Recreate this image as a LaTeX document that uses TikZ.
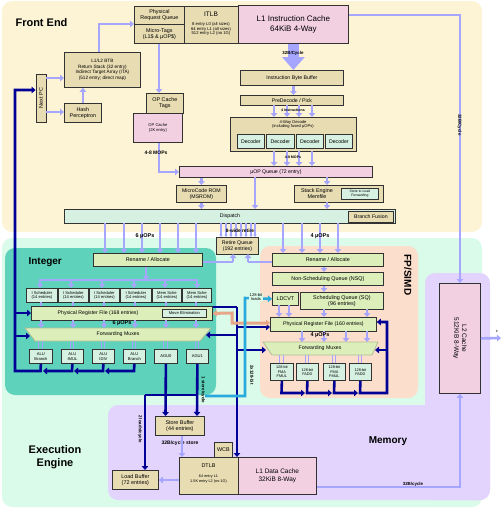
\documentclass[tikz,border=0pt]{standalone}
\usepackage{fontspec}
\setmainfont{Liberation Sans}
\usetikzlibrary{arrows.meta}

\definecolor{frontc}{RGB}{253,244,214}
\definecolor{execc}{RGB}{218,250,234}
\definecolor{intc}{RGB}{94,210,186}
\definecolor{fpc}{RGB}{252,222,204}
\definecolor{memc}{RGB}{226,212,252}
\definecolor{pinkc}{RGB}{242,208,226}
\definecolor{tanc}{RGB}{232,220,178}
\definecolor{mintc}{RGB}{214,240,226}
\definecolor{greenc}{RGB}{220,238,186}
\definecolor{lavc}{RGB}{166,166,255}
\definecolor{dbluec}{RGB}{0,0,150}
\definecolor{cyanc}{RGB}{40,170,220}
\definecolor{salmc}{RGB}{232,166,136}
\definecolor{linec}{RGB}{50,50,50}

\tikzset{
  blk/.style={draw=linec, line width=0.8pt, inner sep=0pt, align=center},
  tanbox/.style={blk, fill=tanc},
  pinkbox/.style={blk, fill=pinkc},
  mintbox/.style={blk, fill=mintc},
  greenbox/.style={blk, fill=greenc},
  nw/.style={anchor=north west},
  fa/.style={font=\fontsize{4.1}{4.7}\selectfont},
  fb/.style={font=\fontsize{5.2}{6}\selectfont},
  fc/.style={font=\fontsize{5.4}{6.4}\selectfont},
  fd/.style={font=\fontsize{6.5}{7.8}\selectfont},
  fe/.style={font=\fontsize{8}{9.6}\selectfont},
  hd/.style={font=\fontsize{11}{13}\selectfont\bfseries, align=center},
  bl/.style={font=\fontsize{4.4}{5}\selectfont\bfseries},
  lav/.style={draw=lavc, line width=2.6pt, -{Triangle[length=4pt,width=6.5pt]}},
  lavline/.style={draw=lavc, line width=2.6pt},
  lavthin/.style={draw=lavc, line width=1.2pt, -{Triangle[length=2.5pt,width=3.5pt]}},
  blu/.style={draw=dbluec, line width=2.6pt, -{Triangle[length=4pt,width=6.5pt]}},
  bluline/.style={draw=dbluec, line width=2.6pt},
  cya/.style={draw=cyanc, line width=2.6pt, -{Triangle[length=4pt,width=6.5pt]}},
}

\begin{document}
\begin{tikzpicture}[x=1pt,y=-1pt]
\useasboundingbox (0,0) rectangle (503,509);
% regions
\fill[frontc, rounded corners=10] (2,1) rectangle (482,232);
\node[hd, anchor=west] (fend) at (12,23) {Front End};
\fill[execc, rounded corners=10] (2,238) rectangle (482,507);
\node[hd] (eeng) at (55,457) {Execution\\Engine};
\fill[intc, rounded corners=10] (5,248) rectangle (216,395);
\node[hd, anchor=west, font=\fontsize{10}{12}\selectfont\bfseries] (intl) at (25,262) {Integer};
\fill[fpc, rounded corners=10] (260,246) rectangle (418,398);
\node[hd, rotate=-90, font=\fontsize{10}{12}\selectfont\bfseries] (fpl) at (408,275) {FP/SIMD};
\fill[memc, rounded corners=10] (108,405) rectangle (490,500);
\fill[memc, rounded corners=10] (425,273) rectangle (490,500);
\node[hd, font=\fontsize{10}{12}\selectfont\bfseries] (meml) at (388,441) {Memory};

% front end
\node[tanbox, fc, nw, minimum width=50, minimum height=18] (prq) at (134,6) {Physical\\Request Queue};
\node[tanbox, fc, nw, minimum width=50, minimum height=19] (mtag) at (134,24) {Micro-Tags\\(L1\$ \& µOP\$)};
\node[tanbox, nw, minimum width=54, minimum height=37] (itlb) at (184,6) {};
\node[fd] (itlbt) at (211,14) {ITLB};
\node[fa, align=center, font=\fontsize{4.2}{4.9}\selectfont] (itlbs) at (211,29) {8 entry L0 (all sizes)\\64 entry L1 (all sizes)\\512 entry L2 (no 1G)};
\node[pinkbox, fe, nw, minimum width=110, minimum height=38] (l1i) at (238,5) {L1 Instruction Cache\\64KiB 4-Way};
\node[tanbox, nw, font=\fontsize{4.7}{5.6}\selectfont, minimum width=76, minimum height=35] (btb) at (64,52) {L1/L2 BTB\\Return Stack (32 entry)\\Indirect Target Array (ITA)\\(512 entry; direct map)};
\node[tanbox, fc, nw, minimum width=37, minimum height=19] (hash) at (64,103) {Hash\\Perceptron};
\node[tanbox, fc, rotate=90, minimum width=48, minimum height=10] (npc) at (41,98) {Next PC};
\node[tanbox, fc, nw, minimum width=37, minimum height=20] (opt) at (146,93) {OP Cache\\Tags};
\node[pinkbox, fa, nw, minimum width=49, minimum height=29] (opc) at (133,113) {OP Cache\\(2K entry)};
\node[tanbox, fb, nw, minimum width=103, minimum height=15] (ibb) at (240,70) {Instruction Byte Buffer};
\node[tanbox, fb, nw, minimum width=103, minimum height=10] (pdec) at (240,95) {PreDecode / Pick};
\node[tanbox, nw, minimum width=126, minimum height=34] (dec) at (230,117) {};
\node[fa, align=center] (dect) at (293,124.5) {4-Way Decode\\(including fused µOPs)};
\node[mintbox, fb, nw, minimum width=27, minimum height=14] (dc1) at (237,134) {Decoder};
\node[mintbox, fb, nw, minimum width=28, minimum height=14] (dc2) at (266,134) {Decoder};
\node[mintbox, fb, nw, minimum width=27, minimum height=14] (dc3) at (296,134) {Decoder};
\node[mintbox, fb, nw, minimum width=27, minimum height=14] (dc4) at (325,134) {Decoder};
\node[pinkbox, fb, nw, minimum width=193, minimum height=11] (uopq) at (179,166) {µOP Queue (72 entry)};
\node[tanbox, fb, nw, minimum width=50, minimum height=17] (msrom) at (176,185) {MicroCode ROM\\(MSROM)};
\node[tanbox, nw, minimum width=89, minimum height=17] (stk) at (294,185) {};
\node[fc, align=center] (stkt) at (317,193.5) {Stack Engine\\Memfile};
\node[mintbox, nw, font=\fontsize{3.4}{4}\selectfont, minimum width=37, minimum height=11] (stlf) at (341,188) {Store to Load\\Forwarding};
\node[mintbox, nw, minimum width=331, minimum height=14] (disp) at (64,209) {};
\node[fb] (dispt) at (230,216) {Dispatch};
\node[tanbox, fb, nw, minimum width=45, minimum height=11] (bfus) at (348,211) {Branch Fusion};

% front end connectors
\draw[lav] (npc.south |- 0,78) -- (btb.west |- 0,78);
\draw[lav] (npc.south |- 0,112) -- (hash.west |- 0,112);
\draw[lav] (hash.north) -- (hash.north |- btb.south);
\draw[lav] (btb.north -| 99,0) |- (prq.west |- mtag.north);
\draw[lav] (mtag.south -| 159,0) -- (opt.north -| 159,0);
\draw[lav] (opc.south -| 159,0) |- (uopq.west);
\node[bl, font=\fontsize{5}{6}\selectfont\bfseries] (mops1) at (156,153) {4-8 MOPs};
\draw[draw=lavc, line width=11pt, -{Triangle[length=13pt,width=22pt]}] (l1i.south) -- (l1i.south |- ibb.north);
\node[bl] (bw1) at (293,53) {32B/Cycle};
\draw[lav] (l1i.south |- ibb.south) -- (l1i.south |- pdec.north);
\foreach \x in {274,287,299,312} \draw[lav] (\x,105) -- (\x,117);
\node[bl, font=\fontsize{3.6}{4}\selectfont\bfseries] (ins4) at (293,110.5) {4 Instructions};
\foreach \x in {274,287,299,312} \draw[lav] (\x,151) -- (\x,166);
\node[bl, font=\fontsize{3.6}{4}\selectfont\bfseries] (mops2) at (293,157.5) {4-8 MOPs};
\draw[lav] (msrom.north |- uopq.south) -- (msrom.north);
\draw[lav] (msrom.south) -- (msrom.south |- disp.north);
\draw[lav] (255,177) -- (255,209);
\draw[lav] (327,177) -- (327,185);
\draw[lav] (327,202) -- (327,209);

% dispatch to back end
\foreach \x in {105,124,142,160,178,196} \draw[lav] (\x,223) -- (\x,253);
\node[bl, font=\fontsize{5.5}{6}\selectfont\bfseries] (u6a) at (145,236) {6 µOPs};
\foreach \x in {283,302,320,338} \draw[lav] (\x,223) -- (\x,253);
\node[bl, font=\fontsize{5.5}{6}\selectfont\bfseries] (u4a) at (320,236) {4 µOPs};
\foreach \x in {221,226,231,236,241,246,251,255} \draw[lavthin] (\x,223) -- (\x,237);
\node[bl, font=\fontsize{4.8}{5.5}\selectfont\bfseries] (ret8) at (240,230.5) {8-wide retire};
\node[tanbox, fb, nw, minimum width=42, minimum height=17] (rq) at (216,237) {Retire Queue\\(192 entries)};

% integer
\node[greenbox, fc, nw, minimum width=109, minimum height=13] (iren) at (93,253) {Rename / Allocate};
\node[mintbox, fa, nw, minimum width=31, minimum height=14] (is1) at (26,288) {I Scheduler\\(14 entries)};
\node[mintbox, fa, nw, minimum width=30, minimum height=14] (is2) at (58,288) {I Scheduler\\(14 entries)};
\node[mintbox, fa, nw, minimum width=30, minimum height=14] (is3) at (89,288) {I Scheduler\\(14 entries)};
\node[mintbox, fa, nw, minimum width=31, minimum height=14] (is4) at (120,288) {I Scheduler\\(14 entries)};
\node[mintbox, fa, nw, minimum width=29, minimum height=14] (ms1) at (152,288) {Mem Sche\\(14 entries)};
\node[mintbox, fa, nw, minimum width=29, minimum height=14] (ms2) at (182,288) {Mem Sche\\(14 entries)};
\node[greenbox, nw, minimum width=181, minimum height=14] (iprf) at (31,306) {};
\node[fb] (iprft) at (98,313) {Physical Register File (168 entries)};
\node[mintbox, fa, nw, minimum width=44, minimum height=8] (mvel) at (162,309) {Move Elimination};
\draw[greenc!80!black, fill=greenc, line width=0.8pt] (25,328) -- (211,328) -- (200,341) -- (35,341) -- cycle;
\node[fb] (imux) at (118,334.5) {Forwarding Muxes};
\node[mintbox, fa, nw, minimum width=23, minimum height=14] (alu1) at (29,349) {ALU\\Branch};
\node[mintbox, fa, nw, minimum width=22, minimum height=14] (alu2) at (61,349) {ALU\\IMUL};
\node[mintbox, fa, nw, minimum width=22, minimum height=14] (alu3) at (92,349) {ALU\\IDIV};
\node[mintbox, fa, nw, minimum width=22, minimum height=14] (alu4) at (123,349) {ALU\\Branch};
\node[mintbox, fa, nw, minimum width=23, minimum height=14] (agu0) at (154,349) {AGU0};
\node[mintbox, fa, nw, minimum width=22, minimum height=14] (agu1) at (186,349) {AGU1};

\draw[lav] (iren.south -| 146,0) -- (146,280);
\draw[lavline] (40,280) -- (197,280);
\foreach \x in {40,71,102,134,165,197} \draw[lav] (\x,279) -- (\x,288);
\foreach \x in {41,73,104,135,166,196} \draw[lavline] (\x,302) -- (\x,306);
\foreach \x in {41,73,104,135,166,196} \draw[lav] (\x,320) -- (\x,328);
\node[bl, font=\fontsize{5.5}{6}\selectfont\bfseries] (u6b) at (122,323) {6 µOPs};
\foreach \x in {40.5,72,103,134,165.5,197} {
  \draw[lavc, line width=1pt] (\x-1.6,341) -- (\x-1.6,349);
  \draw[lavc, line width=1pt] (\x+1.6,341) -- (\x+1.6,349);
}
\draw[lavline] (iren.east |- 0,262) -- (233,262);
\draw[lav] (233,262) -- (233,254);

% integer result buses
\draw[blu] (alu1.south) -- (40.5,371) -- (15,371) -- (15,90) -- (npc.north |- 0,90);
\draw[blu] (15,313) -- (iprf.west |- 0,313);
\draw[blu] (15,336) -- (30,336);
\draw[blu] (alu2.south) -- (72,371) -- (43,371);
\draw[blu] (alu3.south) -- (103,371) -- (74,371);
\draw[blu] (alu4.south) -- (134,371) -- (105,371);
\draw[blu] (agu0.south) -- (165.5,416);
\draw[blu] (agu1.south) -- (197,416);
\draw[bluline] (197,395) -- (145,395);
\draw[blu] (145,395) -- (145,470);
\node[bl, rotate=-90, font=\fontsize{4.4}{5}\selectfont\bfseries] (ld2) at (140,429) {2 loads/cycle};
\node[bl, rotate=-90, font=\fontsize{4.4}{5}\selectfont\bfseries] (st1) at (203,390) {1 store/cycle};

% fp
\node[greenbox, fc, nw, minimum width=111, minimum height=13] (fren) at (272,253) {Rename / Allocate};
\node[greenbox, fc, nw, minimum width=111, minimum height=13] (nsq) at (272,272) {Non-Scheduling Queue (NSQ)};
\node[greenbox, fc, nw, minimum width=26, minimum height=13] (ldcvt) at (272,292) {LDCVT};
\node[greenbox, fc, nw, minimum width=83, minimum height=17] (sq) at (300,292) {Scheduling Queue (SQ)\\(96 entries)};
\node[greenbox, fb, nw, minimum width=106, minimum height=14] (fprf) at (270,317) {Physical Register File (160 entries)};
\draw[greenc!80!black, fill=greenc, line width=0.8pt] (263,342) -- (378,342) -- (372,355) -- (272,355) -- cycle;
\node[fb] (fmux) at (320,348.5) {Forwarding Muxes};
\node[mintbox, nw, font=\fontsize{3.8}{4.3}\selectfont, minimum width=23, minimum height=17] (fu1) at (270,363) {128-bit\\FMA\\FMUL};
\node[mintbox, nw, font=\fontsize{3.8}{4.3}\selectfont, minimum width=22, minimum height=17] (fu2) at (296,363) {128-bit\\FADD};
\node[mintbox, nw, font=\fontsize{3.8}{4.3}\selectfont, minimum width=22, minimum height=17] (fu3) at (323,363) {128-bit\\FMA\\FMUL};
\node[mintbox, nw, font=\fontsize{3.8}{4.3}\selectfont, minimum width=22, minimum height=17] (fu4) at (349,363) {128-bit\\FADD};

\draw[lavline] (fren.west |- 0,262) -- (248,262);
\draw[lav] (248,262) -- (248,254);
\draw[lav] (fren.south -| 324,0) -- (nsq.north -| 324,0);
\draw[lav] (nsq.south -| 324,0) -- (sq.north -| 324,0);
\draw[lav] (279,305) -- (279,317);
\draw[lav] (289,305) -- (289,317);
\draw[lav] (324,309) -- (324,317);
\draw[lav] (367,309) -- (367,317);
\foreach \x in {302,324,346,367} \draw[lav] (\x,331) -- (\x,342);
\node[bl, font=\fontsize{5.5}{6}\selectfont\bfseries] (u4b) at (320,335.5) {4 µOPs};
\foreach \x in {281.5,307,334,360} {
  \draw[lavc, line width=1pt] (\x-1.6,355) -- (\x-1.6,363);
  \draw[lavc, line width=1pt] (\x+1.6,355) -- (\x+1.6,363);
}
\draw[blu] (fu1.south) -- (281.5,393) -- (305,393);
\draw[blu] (fu2.south) -- (307,393) -- (332,393);
\draw[blu] (fu3.south) -- (334,393) -- (358,393);
\draw[blu] (fu4.south) -- (360,393) -- (387,393) -- (387,322) -- (fprf.east |- 0,322);
\draw[blu] (387,350) -- (375,350);

% load data paths
\draw[blu] (237,307) -- (237,457);
\draw[bluline] (213,307) -- (237,307);
\draw[blu] (237,335) -- (206,335);
\draw[blu] (237,327) -- (fprf.west |- 0,327);
\draw[blu] (237,350) -- (266,350);
\draw[draw=salmc, line width=3pt, {Triangle[length=4pt,width=6.5pt]}-{Triangle[length=4pt,width=6.5pt]}] (mvel.east -| iprf.east) -- (232,313) -- (232,323) -- (fprf.west |- 0,323);
\draw[cya] (205,396) -- (245,396) -- (245,298) -- (ldcvt.west);
\node[fa, align=center, fill=execc, inner sep=0.3pt] (ld128) at (256,297) {128-bit\\loads};
\node[bl, rotate=-90, font=\fontsize{4.4}{5}\selectfont\bfseries] (x128) at (252,375) {2x128-bit};

% memory
\node[tanbox, fc, nw, minimum width=49, minimum height=19] (stb) at (155,416) {Store Buffer\\(44 entries)};
\node[bl, font=\fontsize{5}{6}\selectfont\bfseries] (st32) at (180,443) {32B/cycle store};
\node[tanbox, fc, nw, minimum width=18, minimum height=15] (wcb) at (214,442) {WCB};
\node[tanbox, nw, minimum width=59, minimum height=37] (dtlb) at (179,457) {};
\node[fc] (dtlbt) at (208.5,466) {DTLB};
\node[fa, align=center, font=\fontsize{3.8}{4.5}\selectfont] (dtlbs) at (208.5,479) {64 entry L1\\1.5K entry L2 (no 1G)};
\node[pinkbox, fd, nw, minimum width=78, minimum height=37] (l1d) at (238,457) {L1 Data Cache\\32KiB 8-Way};
\node[tanbox, fc, nw, minimum width=46, minimum height=19] (ldb) at (112,470) {Load Buffer\\(72 entries)};
\node[pinkbox, nw, minimum width=41, minimum height=110] (l2) at (439,283) {};
\node[fd, align=center, rotate=-90] (l2t) at (l2.center) {L2 Cache\\512KiB 8-Way};
\draw[lav] (l1i.east |- 0,15) -- (l2.north |- 0,15) -- (l2.north);
\node[bl, rotate=-90] (bw2) at (459.5,125) {32B/Cycle};
\draw[lav] (stb.south -| 182,0) -- (dtlb.north -| 182,0);
\draw[lav] (dtlb.west |- 0,480) -- (ldb.east |- 0,480);
\draw[lav] (l1d.east |- 0,487) -- (l2.south |- 0,487) -- (l2.south);
\node[bl, font=\fontsize{4.4}{5}\selectfont\bfseries] (bw3) at (413,484) {32B/cycle};
\draw[lav] (l2.east) -- (501,338);
\node[fa] (cl) at (497,331) {c};
\end{tikzpicture}
\end{document}
